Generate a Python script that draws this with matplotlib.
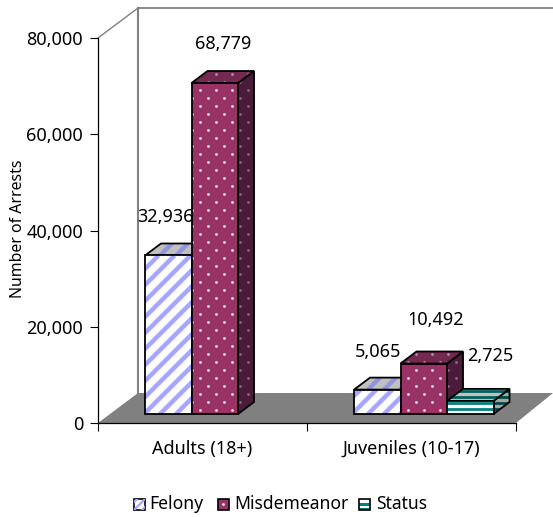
import numpy as np
import matplotlib
matplotlib.use("Agg")
import matplotlib.pyplot as plt
from matplotlib.patches import Polygon, Rectangle
from matplotlib.transforms import IdentityTransform

# ── Data ──────────────────────────────────────────────────────────────
GROUPS = ["Adults (18+)", "Juveniles (10-17)"]
SERIES = ["Felony", "Misdemeanor", "Status"]
FELONY = [32936, 5065]
MISDEMEANOR = [68779, 10492]
STATUS = [None, 2725]
Y_TICKS = [0, 20000, 40000, 60000, 80000]
Y_LABEL = "Number of Arrests"

# ── Style ─────────────────────────────────────────────────────────────
W, H = 553, 517
GREY = "#808080"
BAR_W = 0.2225
BAR_START = 0.225
BASE_DROP = 9          # bars stand this many px above the front edge
BAR_DEPTH = (16, 12)   # px
WALL_DEPTH = (40, 30)  # px
STYLES = {
    "Felony": dict(front=("#FFFFFF", "#A6A6FF"), top=("#C0C0C0", "#9494DD"), side=("#C0C0C0", "#9494DD"),
                   pattern="diag"),
    "Misdemeanor": dict(front=("#993366", "#F4DCE8"), top=("#742A50", "#B090A8"), side=("#4A1C3A", "#8E6680"),
                        pattern="dots"),
    "Status": dict(front=("#FFFFFF", "#008080"), top=("#C0C0C0", "#006060"), side=("#A0A8A8", "#004848"),
                   pattern="horiz"),
}
# label offset from the middle of the bar's front top, px
LABEL_OFFSETS = {
    "Felony": [(-3, 38), (1, 38)],
    "Misdemeanor": [(8, 39), (12, 44)],
    "Status": [(0, 0), (20, 45)],
}

plt.rcParams["font.family"] = ["Noto Sans", "DejaVu Sans"]
plt.rcParams["font.size"] = 13

fig = plt.figure(figsize=(W / 100, H / 100), dpi=100)
ax = fig.add_axes([98 / W, (H - 423) / H, 418 / W, 385 / H])
ax.set_xlim(0, 2)
ax.set_ylim(0, 80000)
ax.patch.set_visible(False)
for s in ("top", "right"):
    ax.spines[s].set_visible(False)

ident = IdentityTransform()


def corner(x, v, dx=0, dy=0):
    """Data position to display px, with an extra px shift."""
    px, py = ax.transData.transform((x, v))
    return (px + dx, py + dy)


def add_pattern(owner, patch, pattern, color):
    """Fill patch with the fill pattern, clipped to the patch."""
    verts = patch.get_xy()
    x0, x1 = verts[:, 0].min(), verts[:, 0].max()
    y0, y1 = verts[:, 1].min(), verts[:, 1].max()
    z = patch.get_zorder()
    lines = []
    if pattern == "dots":
        # 16 px grid, every other row staggered
        xs, ys = [], []
        for y in np.arange(np.floor(y0 / 8) * 8, y1 + 8, 8):
            shift = 8 if int(y / 8) % 2 else 0
            for x in np.arange(np.floor(x0 / 16) * 16 + shift, x1 + 16, 16):
                xs.append(x)
                ys.append(y + 3)
        lines += owner.plot(xs, ys, ls="none", marker="o", ms=2.0, mew=0, color=color,
                            transform=ident, zorder=z)
    elif pattern == "diag":
        h = y1 - y0
        for x in np.arange(np.floor((x0 - h) / 16) * 16, x1 + 16, 16):
            lines += owner.plot([x, x + h], [y0, y1], color=color, lw=3.2, solid_capstyle="butt",
                                transform=ident, zorder=z)
    elif pattern == "horiz":
        for y in np.arange(np.floor(y0 / 6) * 6, y1 + 6, 6):
            lines += owner.plot([x0, x1], [y, y], color=color, lw=2.0, solid_capstyle="butt",
                                transform=ident, zorder=z)
    for ln in lines:
        ln.set_clip_path(patch)


def face(verts, colors, pattern, z):
    bg, fg = colors
    p = Polygon(verts, closed=True, facecolor=bg, edgecolor="none",
                transform=ident, clip_on=False, zorder=z)
    ax.add_patch(p)
    add_pattern(ax, p, pattern, fg)
    ax.add_patch(Polygon(verts, closed=True, fill=False, edgecolor="black", lw=1.3,
                         transform=ident, clip_on=False, zorder=z))


def draw_bar(x, v, style, z):
    dx, dy = BAR_DEPTH
    b = BASE_DROP
    x1 = x + BAR_W
    front = [corner(x, 0, 0, b), corner(x1, 0, 0, b), corner(x1, v, 0, b), corner(x, v, 0, b)]
    top = [corner(x, v, 0, b), corner(x1, v, 0, b), corner(x1, v, dx, b + dy), corner(x, v, dx, b + dy)]
    side = [corner(x1, 0, 0, b), corner(x1, 0, dx, b + dy), corner(x1, v, dx, b + dy), corner(x1, v, 0, b)]
    face(side, style["side"], style["pattern"], z)
    face(top, style["top"], style["pattern"], z)
    face(front, style["front"], style["pattern"], z)


# ── Walls and floor ───────────────────────────────────────────────────
wx, wy = WALL_DEPTH
floor = [corner(0, 0), corner(2, 0), corner(2, 0, 37, wy), corner(0, 0, wx, wy)]
ax.add_patch(Polygon(floor, closed=True, facecolor=GREY, edgecolor="none",
                     transform=ident, clip_on=False, zorder=1))
for pts, lw in [
    ([corner(0, 0, wx, wy), corner(0, 80000, wx, wy)], 1.5),
    ([corner(0, 80000, wx, wy), corner(2, 80000, 37, wy)], 1.3),
    ([corner(0, 80000), corner(0, 80000, wx, wy)], 1.0),
]:
    ax.plot(*zip(*pts), color=GREY, lw=lw, transform=ident, clip_on=False, zorder=1)

# ── Bars and labels ───────────────────────────────────────────────────
z = 3
for g in range(len(GROUPS)):
    for s, (name, vals) in enumerate(zip(SERIES, (FELONY, MISDEMEANOR, STATUS))):
        v = vals[g]
        if v is None:
            continue
        x = g + BAR_START + s * BAR_W
        draw_bar(x, v, STYLES[name], z)
        z += 1
        ox, oy = LABEL_OFFSETS[name][g]
        cx, cy = corner(x + BAR_W / 2, v, ox, BASE_DROP + oy)
        ax.text(cx, cy, f"{v:,}", transform=ident, ha="center", va="center", color="black", zorder=20)

# ── Axes ──────────────────────────────────────────────────────────────
ax.set_yticks(Y_TICKS)
ax.set_yticklabels([f"{t:,}" for t in Y_TICKS])
ax.tick_params(axis="y", length=5.8, width=0.8, pad=5)
ax.set_xticks([0.5, 1.5])
ax.set_xticklabels(GROUPS)
ax.set_xticks([0, 1, 2], minor=True)
ax.tick_params(axis="x", which="major", length=0, pad=12)
ax.tick_params(axis="x", which="minor", length=5.8, width=0.8)
for s in ("left", "bottom"):
    ax.spines[s].set_linewidth(0.9)
    ax.spines[s].set_zorder(2)
fig.text(18 / W, 1 - 229 / H, Y_LABEL, rotation=90, ha="center", va="center", fontsize=11.4)

# ── Legend ────────────────────────────────────────────────────────────
for name, sx, tx in [("Felony", 134, 149), ("Misdemeanor", 218, 234), ("Status", 359, 376)]:
    st = STYLES[name]
    sy = H - 510
    swatch = Rectangle((sx, sy), 11, 11, facecolor=st["front"][0], edgecolor="none", transform=ident)
    fig.add_artist(swatch)
    if st["pattern"] == "dots":
        fig.add_artist(plt.Line2D([sx + 5], [sy + 6], ls="none", marker="o", ms=2, mew=0, color=st["front"][1],
                                  transform=ident))
    elif st["pattern"] == "horiz":
        fig.add_artist(Rectangle((sx, sy + 4), 11, 3, facecolor=st["front"][1], edgecolor="none", transform=ident))
        fig.add_artist(Rectangle((sx, sy), 11, 2, facecolor=st["front"][1], edgecolor="none", transform=ident))
    else:
        for off in (-8, 0, 8):
            ln = plt.Line2D([sx + off, sx + off + 11], [sy, sy + 11], color=st["front"][1], lw=1.6, transform=ident)
            fig.add_artist(ln)
            ln.set_clip_path(swatch)
    fig.add_artist(Rectangle((sx, sy), 11, 11, fill=False, edgecolor="black", lw=1.2, transform=ident))
    fig.text(tx / W, 1 - 504 / H, name, ha="left", va="center", fontsize=12.6)

fig.savefig("out.png", dpi=100)
